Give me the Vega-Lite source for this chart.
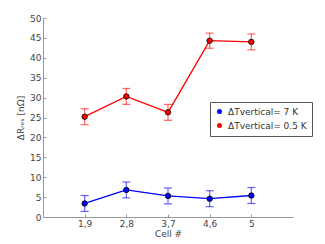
{
  "$schema": "https://vega.github.io/schema/vega-lite/v6.json",
  "width": 250,
  "height": 199,
  "autosize": "none",
  "padding": {"left": 43, "top": 18, "right": 32, "bottom": 27},
  "background": "white",
  "config": {
    "view": {"stroke": null},
    "font": "DejaVu Sans",
    "axis": {"grid": false, "domainColor": "#999999", "tickColor": "#999999", "labelColor": "#444444", "titleColor": "#444444", "labelFontSize": 9, "titleFontSize": 9, "titleFontWeight": "normal", "tickSize": -3, "labelPadding": 5, "labelOverlap": false}
  },
  "data": {"values": [
    {"idx": 1, "series": "ΔTvertical= 7 K", "v": 3.4, "lo": 1.4, "hi": 5.4},
    {"idx": 2, "series": "ΔTvertical= 7 K", "v": 6.8, "lo": 4.8, "hi": 8.8},
    {"idx": 3, "series": "ΔTvertical= 7 K", "v": 5.3, "lo": 3.3, "hi": 7.3},
    {"idx": 4, "series": "ΔTvertical= 7 K", "v": 4.6, "lo": 2.6, "hi": 6.6},
    {"idx": 5, "series": "ΔTvertical= 7 K", "v": 5.4, "lo": 3.4, "hi": 7.4},
    {"idx": 1, "series": "ΔTvertical= 0.5 K", "v": 25.2, "lo": 23.2, "hi": 27.2},
    {"idx": 2, "series": "ΔTvertical= 0.5 K", "v": 30.3, "lo": 28.3, "hi": 32.3},
    {"idx": 3, "series": "ΔTvertical= 0.5 K", "v": 26.3, "lo": 24.3, "hi": 28.3},
    {"idx": 4, "series": "ΔTvertical= 0.5 K", "v": 44.3, "lo": 42.4, "hi": 46.2},
    {"idx": 5, "series": "ΔTvertical= 0.5 K", "v": 44.0, "lo": 42.0, "hi": 46.0}
  ]},
  "encoding": {
    "x": {"field": "idx", "type": "quantitative", "scale": {"domain": [0, 6], "nice": false},
      "axis": {"values": [1, 2, 3, 4, 5], "title": "Cell #", "titlePadding": 1, "labelExpr": "['','1,9','2,8','3,7','4,6','5'][datum.value]"}},
    "color": {"field": "series", "type": "nominal",
      "scale": {"domain": ["ΔTvertical= 7 K", "ΔTvertical= 0.5 K"], "range": ["#0000ff", "#ff0000"]},
      "legend": {"title": null, "orient": "none", "legendX": 167, "legendY": 84, "strokeColor": "#555555", "fillColor": "white", "padding": 5, "labelFontSize": 9, "labelColor": "#333333", "symbolType": "circle", "symbolSize": 25, "symbolStrokeWidth": 0, "symbolOpacity": 1, "rowPadding": 4}}
  },
  "layer": [
    {"mark": {"type": "rule", "opacity": 0.6, "strokeWidth": 1.2},
     "encoding": {"y": {"field": "lo", "type": "quantitative",
        "scale": {"domain": [0, 50], "nice": false},
        "axis": {"values": [0,5,10,15,20,25,30,35,40,45,50], "title": "ΔRᵣₑₛ [nΩ]", "titlePadding": 4}}, "y2": {"field": "hi"}}},
    {"mark": {"type": "tick", "orient": "horizontal", "size": 8, "thickness": 1.2, "opacity": 0.6},
     "encoding": {"y": {"field": "lo", "type": "quantitative",
        "axis": {"values": [0,5,10,15,20,25,30,35,40,45,50], "title": "ΔRᵣₑₛ [nΩ]", "titlePadding": 4}}}},
    {"mark": {"type": "tick", "orient": "horizontal", "size": 8, "thickness": 1.2, "opacity": 0.6},
     "encoding": {"y": {"field": "hi", "type": "quantitative",
        "axis": {"values": [0,5,10,15,20,25,30,35,40,45,50], "title": "ΔRᵣₑₛ [nΩ]", "titlePadding": 4}}}},
    {"mark": {"type": "line", "strokeWidth": 1.3},
     "encoding": {"y": {"field": "v", "type": "quantitative",
        "axis": {"values": [0,5,10,15,20,25,30,35,40,45,50], "title": "ΔRᵣₑₛ [nΩ]", "titlePadding": 4}}}},
    {"mark": {"type": "point", "filled": true, "shape": "circle", "size": 30, "stroke": "black", "strokeWidth": 0.8, "opacity": 1},
     "encoding": {"y": {"field": "v", "type": "quantitative",
        "axis": {"values": [0,5,10,15,20,25,30,35,40,45,50], "title": "ΔRᵣₑₛ [nΩ]", "titlePadding": 4}}}}
  ]
}
